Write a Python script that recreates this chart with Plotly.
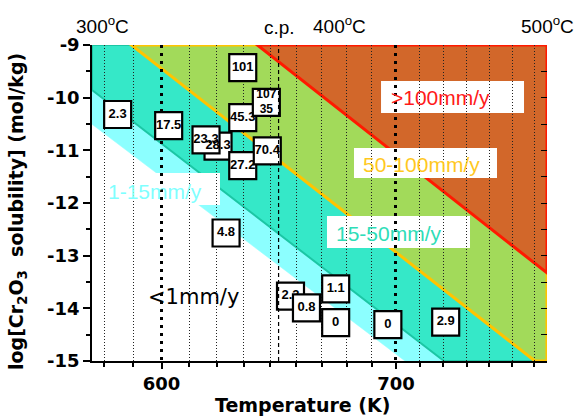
import numpy as np
import plotly.graph_objects as go

# ---------------- data ----------------
T_MIN, T_MAX = 573.15, 773.15          # 300 C .. 500 C (log-scaled axis)
Y_MIN, Y_MAX = -15.0, -9.0

# band boundaries: two (T [K], log S) points each, straight in log T
bound_1 = ([573.0, 704.2], [-10.50, -15.00])
bound_15 = ([573.0, 722.5], [-9.85, -15.00])
bound_50 = ([588.2, 767.0], [-9.00, -15.00])
bound_100 = ([639.0, 773.9], [-9.00, -13.35])

# vertical grid (minor) temperatures and major ticks
grid_T = [577.8, 588.9, 611.1, 622.2, 633.3, 644.4, 655.6, 666.7, 677.8,
          688.9, 711.1, 722.2, 733.3, 744.4, 755.6, 766.7]
major_T = [600, 700]
major_T_text = ["600", "700"]
cp_T = 648.0

y_ticks = [-9, -10, -11, -12, -13, -14, -15]
y_tick_text = ["-9", "-10", "-11", "-12", "-13", "-14", "-15"]

# corrosion-rate boxes (mm/y) at (T, log solubility); groups share one trace
box_T = [622.7, 617.8, 632.9, 632.9, 642.8, 643.2, 632.9, 582.9, 602.8,
         626.0, 653.1, 660.0, 672.8, 672.8, 696.3, 723.3]
box_logS = [-10.92, -10.80, -11.29, -10.38, -10.09, -11.01, -9.43, -10.32, -10.53,
            -12.57, -13.77, -13.99, -13.63, -14.27, -14.31, -14.26]
box_text = ["28.3", "23.3", "27.2", "45.3", "107<br>35", "70.4", "101", "2.3", "17.5",
            "4.8", "2.3", "0.8", "1.1", "0", "0", "2.9"]
box_group = [0, 0, 1, 2, 3, 4, 5, 6, 7, 8, 9, 10, 11, 12, 13, 14]

top_labels = ["300<sup>o</sup>C", "c.p.", "400<sup>o</sup>C", "500<sup>o</sup>C"]

# ---------------- helpers ----------------
LX0, LX1 = np.log10(T_MIN), np.log10(T_MAX)


def fx(f):   # plot-area fraction -> temperature
    return 10 ** (LX0 + f * (LX1 - LX0))


def fy(f):   # plot-area fraction -> log S
    return Y_MIN + f * (Y_MAX - Y_MIN)


def region_above(bound):
    (t1, t2), (y1, y2) = bound
    slope = (y2 - y1) / (np.log(t2) - np.log(t1))
    f = lambda t: y1 + slope * (np.log(t) - np.log(t1))
    corners = [(T_MIN, Y_MIN), (T_MAX, Y_MIN), (T_MAX, Y_MAX), (T_MIN, Y_MAX)]
    out = []
    for i in range(4):
        a, b = corners[i], corners[(i + 1) % 4]
        da, db = a[1] - f(a[0]), b[1] - f(b[0])
        if da >= 0:
            out.append(a)
        if da * db < 0:
            if a[0] == b[0]:
                out.append((a[0], f(a[0])))
            else:
                t = np.exp(np.log(t1) + (a[1] - y1) / slope)
                out.append((t, a[1]))
    return "M " + " L ".join(f"{x:.4f},{y:.4f}" for x, y in out) + " Z"


fig = go.Figure()

bands = [
    (bound_1, "#8CFFFF", "#8CFFFF", 0.5),
    (bound_15, "#35E8C8", "#1CC6A4", 2),
    (bound_50, "#A2DA5A", "#FFC400", 3),
    (bound_100, "#D2672A", "#FF1A00", 3),
]
shapes = []
for bnd, fill, line, lw in bands:
    shapes.append(dict(type="path", xref="x", yref="y", path=region_above(bnd),
                       fillcolor=fill, line=dict(color=line, width=lw), layer="below"))

# white backgrounds of band labels (plot-area fractions)
label_boxes = [
    (0.6352, 0.9495, 0.7848, 0.8861),
    (0.5758, 0.8901, 0.5791, 0.6741),
    (0.5165, 0.8308, 0.3576, 0.4589),
    (0.0110, 0.2813, 0.4937, 0.5949),
]
for x0, x1, y0, y1 in label_boxes:
    shapes.append(dict(type="rect", xref="x", yref="y", x0=fx(x0), x1=fx(x1),
                       y0=fy(y0), y1=fy(y1),
                       fillcolor="white", line=dict(width=0), layer="below"))

# critical point dashed line
fig.add_trace(go.Scatter(x=[cp_T, cp_T], y=[Y_MIN, Y_MAX], mode="lines", yaxis="y2",
                         line=dict(color="black", width=1.2, dash="4px,3px"),
                         showlegend=False, hoverinfo="skip"))

for g in sorted(set(box_group)):
    idx = [i for i, gg in enumerate(box_group) if gg == g]
    txts = [box_text[i] for i in idx]
    fig.add_trace(go.Scatter(
        x=[box_T[i] for i in idx], y=[box_logS[i] for i in idx],
        mode="markers+text", text=txts, textposition="middle center",
        marker=dict(symbol="square", size=27, color="white", line=dict(color="black", width=2.2)),
        textfont=dict(family="Liberation Sans", size=[12 if "<br>" in t else 13 for t in txts],
                      color="black", weight="bold"),
        showlegend=False, hoverinfo="skip", cliponaxis=False))

annotations = []
band_labels = [
    ("&gt;100mm/y", 0.655, 0.835, "#FF1A1A", "Liberation Sans", 21),
    ("50-100mm/y", 0.5927, 0.6203, "#FFC81E", "Liberation Sans", 21),
    ("15-50mm/y", 0.534, 0.4019, "#2EDDB8", "Liberation Sans", 21),
    ("1-15mm/y", 0.032, 0.5358, "#7FFFFF", "Liberation Sans", 21),
    ("&lt;1mm/y", 0.121, 0.2025, "black", "DejaVu Sans", 21),
]
for txt, x, y, c, fam, sz in band_labels:
    annotations.append(dict(text=txt, x=x, y=y, xref="paper", yref="paper", xanchor="left",
                            yanchor="middle", showarrow=False, borderpad=0,
                            font=dict(family=fam, size=sz, color=c)))

top_pos = [(0.022, 1.0633), (0.411, 1.0538), (0.545, 1.0633), (1.002, 1.0633)]
for txt, (x, y) in zip(top_labels, top_pos):
    annotations.append(dict(text=txt, x=x, y=y, xref="paper", yref="paper", xanchor="center",
                            yanchor="middle", showarrow=False,
                            font=dict(family="Liberation Sans", size=19, color="black")))

annotations.append(dict(text="Temperature (K)", x=0.4626, y=-0.139, xref="paper", yref="paper",
                        xanchor="center", yanchor="middle", showarrow=False,
                        font=dict(family="DejaVu Sans", size=19, color="black", weight="bold")))
annotations.append(dict(text="log[Cr<sub>2</sub>O<sub>3</sub>\u00a0\u00a0solubility] (mol/kg)",
                        x=-0.1648, y=0.4715, xref="paper", yref="paper", textangle=-90,
                        xanchor="center", yanchor="middle", showarrow=False,
                        font=dict(family="DejaVu Sans", size=19, color="black", weight="bold")))

tick_font = dict(family="DejaVu Sans", size=18, color="black", weight="bold")

fig.update_layout(
    width=576, height=419,
    margin=dict(l=92, r=29, t=45, b=58),
    paper_bgcolor="white", plot_bgcolor="white",
    shapes=shapes, annotations=annotations,
    xaxis=dict(type="log", range=[LX0, LX1],
               tickmode="array", tickvals=major_T, ticktext=major_T_text,
               ticks="outside", ticklen=6, tickwidth=1.5, tickcolor="black",
               showgrid=True, gridcolor="black", gridwidth=3, griddash="3px,5px",
               showline=True, linecolor="black", linewidth=1.5, tickfont=tick_font,
               minor=dict(tickmode="array", tickvals=grid_T, ticks="outside", ticklen=4,
                          tickcolor="black", showgrid=True, gridcolor="#222222",
                          gridwidth=1, griddash="1px,2px"),
               layer="above traces"),
    yaxis=dict(range=[Y_MIN, Y_MAX], tickmode="array", tickvals=y_ticks, ticktext=y_tick_text,
               ticks="outside", ticklen=7, tickwidth=1.5, tickcolor="black",
               showgrid=False, zeroline=False, showline=True, linecolor="black", linewidth=1.5,
               tickfont=tick_font,
               minor=dict(dtick=0.5, ticks="outside", ticklen=4, tickcolor="black", showgrid=False)),
    yaxis2=dict(range=[Y_MIN, Y_MAX], overlaying="y", side="right", anchor="x",
                tick0=-15, dtick=0.5, ticks="inside", ticklen=6, tickcolor="black",
                showticklabels=False, showgrid=False, zeroline=False, showline=False),
)

fig.write_html("out.html")
